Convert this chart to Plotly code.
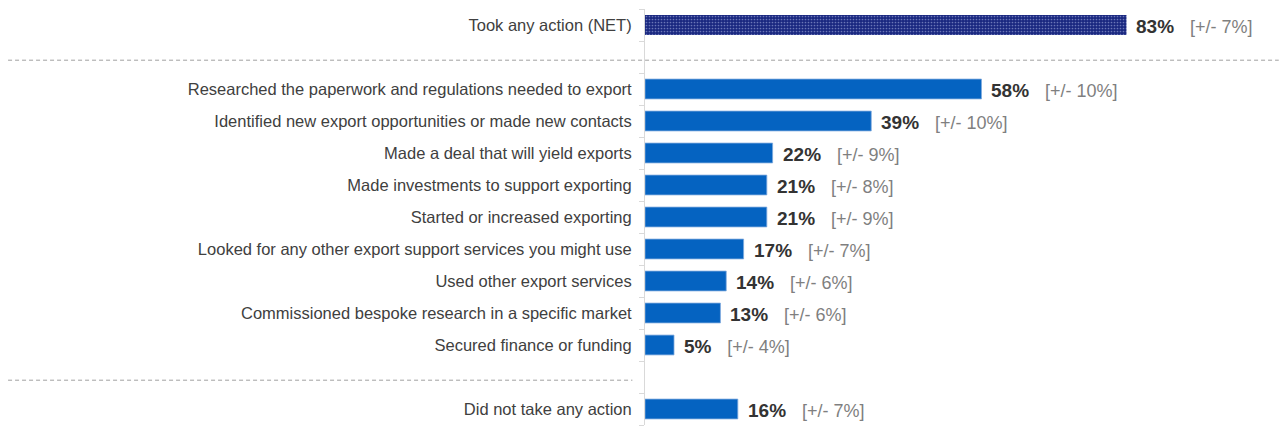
import plotly.graph_objects as go

# Survey results: share of businesses taking each action, with margins of error
categories = [
    "Took any action (NET)",
    "",
    "Researched the paperwork and regulations needed to export",
    "Identified new export opportunities or made new contacts",
    "Made a deal that will yield exports",
    "Made investments to support exporting",
    "Started or increased exporting",
    "Looked for any other export support services you might use",
    "Used other export services",
    "Commissioned bespoke research in a specific market",
    "Secured finance or funding",
    "",
    "Did not take any action",
]
values = [83, None, 58, 39, 22, 21, 21, 17, 14, 13, 5, None, 16]
margins = [7, None, 10, 10, 9, 8, 9, 7, 6, 6, 4, None, 7]

BLUE = "#0563C1"
NAVY = "#1A2880"
positions = list(range(len(categories)))

fig = go.Figure()
# NET row: dotted navy bar
fig.add_trace(go.Bar(
    x=[values[0]], y=[positions[0]], orientation="h",
    marker=dict(color=NAVY, line=dict(width=0),
                pattern=dict(shape=".", fgcolor="#b9c4ee", bgcolor=NAVY,
                             size=3, solidity=0.25)),
    width=0.62, hoverinfo="skip", showlegend=False,
))
main_idx = [i for i, v in enumerate(values) if v is not None and i != 0]
fig.add_trace(go.Bar(
    x=[values[i] for i in main_idx], y=[positions[i] for i in main_idx],
    orientation="h",
    marker=dict(color=BLUE, line=dict(width=0.8, color="#7fa9dd")),
    width=0.62, hoverinfo="skip", showlegend=False,
))

# Value and margin-of-error labels to the right of each bar
for i, (v, m) in enumerate(zip(values, margins)):
    if v is None:
        continue
    fig.add_annotation(
        x=v, y=positions[i], xref="x", yref="y",
        xanchor="left", yanchor="middle", xshift=8, yshift=-1, showarrow=False,
        text=(f"<b>{v}%</b>&nbsp;&nbsp;&nbsp;"
              f"<span style='color:#7f7f7f;font-size:18px'>[+/- {m}%]</span>"),
        font=dict(family="Liberation Sans, Arial", size=19, color="#333333"),
    )

# Dashed separators between summary rows and the detail list
fig.add_shape(type="line", xref="paper", yref="y",
              x0=-1.011, x1=1.006, y0=1.1, y1=1.1,
              line=dict(color="#a0a0a0", width=1, dash="4px,3px"))
fig.add_shape(type="line", xref="paper", yref="y",
              x0=-1.011, x1=-0.02, y0=11.1, y1=11.1,
              line=dict(color="#a0a0a0", width=1, dash="4px,3px"))

fig.update_layout(
    width=1279, height=436,
    margin=dict(l=645, r=4, t=9, b=11),
    paper_bgcolor="white", plot_bgcolor="white",
    font=dict(family="Liberation Sans, Arial", color="#404040"),
    xaxis=dict(range=[0, 108.6], visible=False, fixedrange=True),
    yaxis=dict(
        range=[12.5, -0.5], tickmode="array", tickvals=positions,
        ticktext=categories, ticks="", showgrid=False, zeroline=False,
        showline=True, linecolor="#d9d9d9", linewidth=1,
        tickfont=dict(family="Liberation Sans, Arial", size=16.5, color="#404040"),
        ticklabelstandoff=9,
        minor=dict(tickmode="array",
                   tickvals=[p - 0.5 for p in positions] + [12.5],
                   ticks="outside", ticklen=5, tickcolor="#d9d9d9",
                   showgrid=False),
    ),
)

fig.write_html("out.html")
